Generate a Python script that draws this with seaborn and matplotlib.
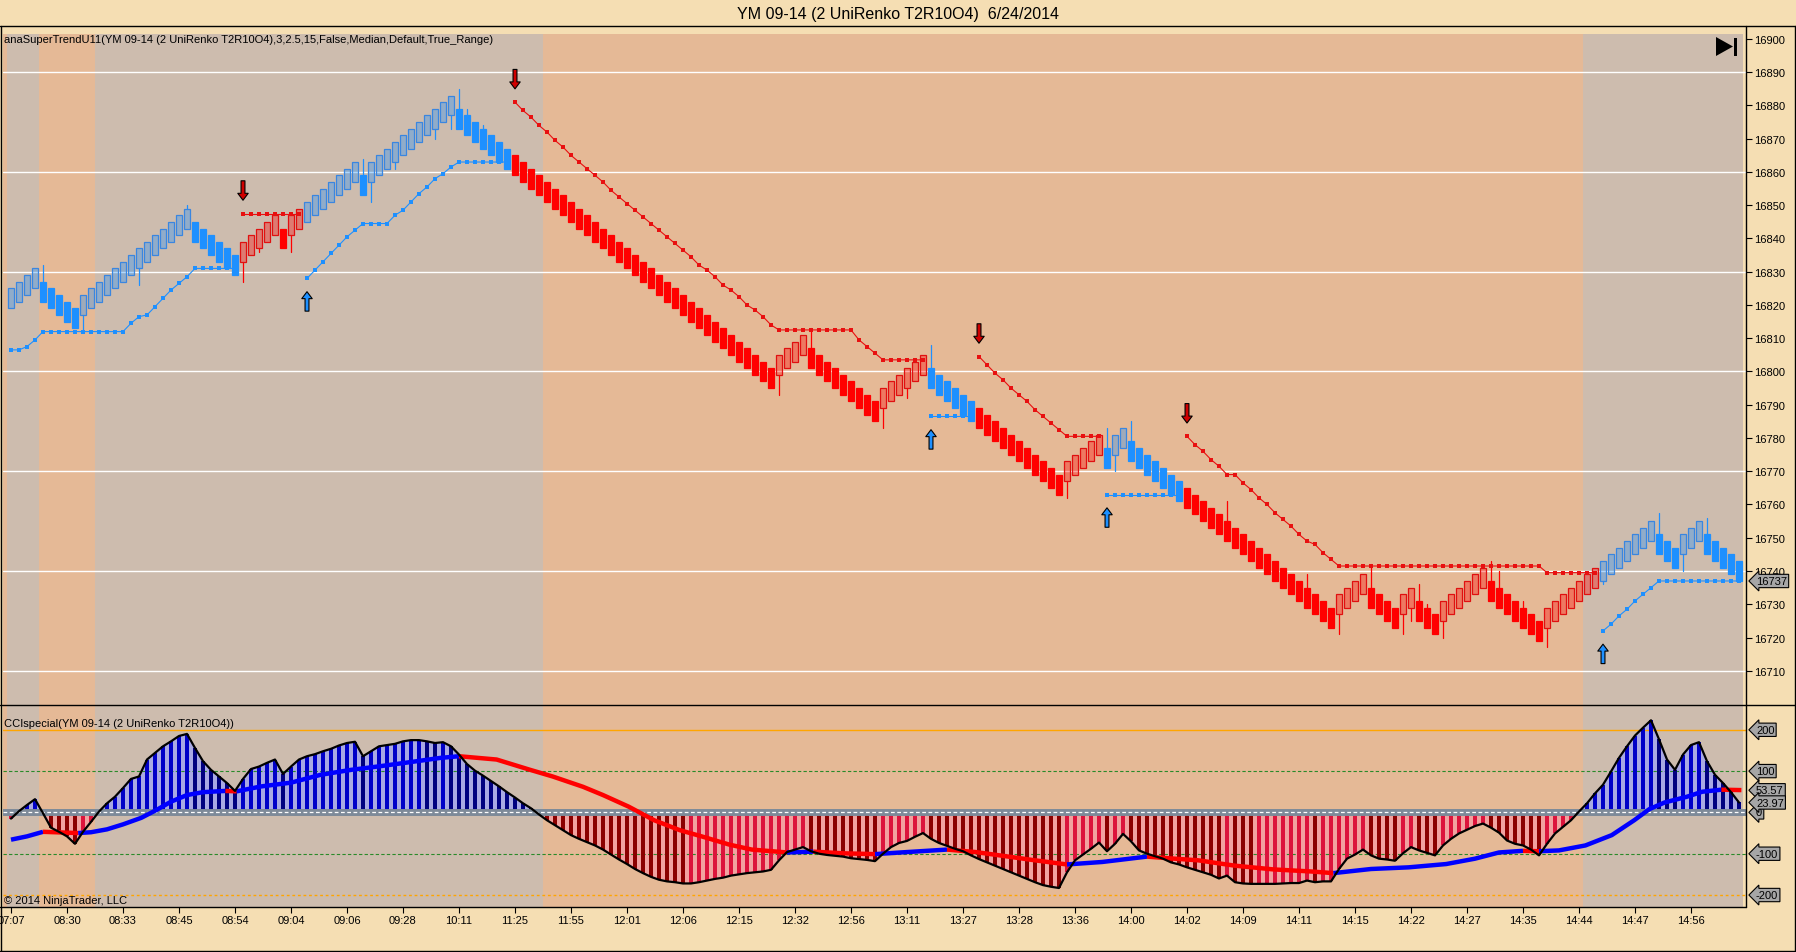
import numpy as np
import matplotlib
matplotlib.use("Agg")
import matplotlib.pyplot as plt
import matplotlib.transforms as mtransforms
from matplotlib.lines import Line2D
from matplotlib.patches import Polygon, Rectangle
import seaborn as sns

# ---------------- data ----------------
title = "YM 09-14 (2 UniRenko T2R10O4)  6/24/2014"
st_label = "anaSuperTrendU11(YM 09-14 (2 UniRenko T2R10O4),3,2.5,15,False,Median,Default,True_Range)"
cci_label = "CCIspecial(YM 09-14 (2 UniRenko T2R10O4))"
copyright_label = "\u00a9 2014 NinjaTrader, LLC"

# UniRenko bar closes, one per bar
closes = [
    16825, 16827, 16829, 16831, 16821, 16819, 16817, 16815, 16813, 16823,
    16825, 16827, 16829, 16831, 16833, 16835, 16837, 16839, 16841, 16843,
    16845, 16847, 16849, 16839, 16837, 16835, 16833, 16831, 16829, 16839,
    16841, 16843, 16845, 16847, 16837, 16847, 16849, 16851, 16853, 16855,
    16857, 16859, 16861, 16863, 16853, 16863, 16865, 16867, 16869, 16871,
    16873, 16875, 16877, 16879, 16881, 16883, 16873, 16871, 16869, 16867,
    16865, 16863, 16861, 16859, 16857, 16855, 16853, 16851, 16849, 16847,
    16845, 16843, 16841, 16839, 16837, 16835, 16833, 16831, 16829, 16827,
    16825, 16823, 16821, 16819, 16817, 16815, 16813, 16811, 16809, 16807,
    16805, 16803, 16801, 16799, 16797, 16795, 16805, 16807, 16809, 16811,
    16801, 16799, 16797, 16795, 16793, 16791, 16789, 16787, 16785, 16795,
    16797, 16799, 16801, 16803, 16805, 16795, 16793, 16791, 16789, 16787,
    16785, 16783, 16781, 16779, 16777, 16775, 16773, 16771, 16769, 16767,
    16765, 16763, 16773, 16775, 16777, 16779, 16781, 16771, 16781, 16783,
    16773, 16771, 16769, 16767, 16765, 16763, 16761, 16759, 16757, 16755,
    16753, 16751, 16749, 16747, 16745, 16743, 16741, 16739, 16737, 16735,
    16733, 16731, 16729, 16727, 16725, 16723, 16733, 16735, 16737, 16739,
    16729, 16727, 16725, 16723, 16733, 16735, 16725, 16723, 16721, 16731,
    16733, 16735, 16737, 16739, 16741, 16731, 16729, 16727, 16725, 16723,
    16721, 16719, 16729, 16731, 16733, 16735, 16737, 16739, 16741, 16743,
    16745, 16747, 16749, 16751, 16753, 16755, 16745, 16743, 16741, 16751,
    16753, 16755, 16745, 16743, 16741, 16739, 16737,
]
first_open = 16819
brick_body = 6  # body height of a UniRenko T2R10O4 bar, in points

# bars that show a wick, and where the wick ends
wick_bars = [4, 9, 16, 22, 29, 31, 35, 44, 45, 48, 53, 55, 56, 57, 59,
             96, 100, 109, 112, 115, 132, 137, 138, 140, 152, 162, 166,
             170, 174, 175, 176, 177, 179, 185, 186, 189, 192, 199, 206,
             209, 212]
wick_ends = [16832, 16812, 16826, 16850, 16827, 16836, 16836, 16864, 16851,
             16861, 16870, 16873, 16885, 16879, 16874,
             16793, 16813, 16783, 16792, 16808, 16762, 16783, 16770, 16785,
             16761, 16739, 16721, 16742, 16721, 16725, 16736, 16730, 16720,
             16743, 16740, 16731, 16717, 16736, 16757.5, 16740, 16756]

# SuperTrend direction: (direction, number of bars)
trend_runs = [(1, 29), (-1, 8), (1, 26), (-1, 52), (1, 6), (-1, 16),
              (1, 10), (-1, 52), (1, 18)]

supertrend = [
    16806.5, 16806.5, 16807.5, 16809.5, 16812, 16812, 16812, 16812, 16812, 16812,
    16812, 16812, 16812, 16812, 16812, 16814.5, 16816.5, 16817, 16819.5, 16822,
    16824.5, 16826.5, 16828.5, 16831, 16831, 16831, 16831, 16831, 16831, 16847.5,
    16847.5, 16847.5, 16847.5, 16847.5, 16847.5, 16847.5, 16847.5, 16828, 16830.5, 16833,
    16835.5, 16838, 16840.5, 16842.5, 16844.5, 16844.5, 16844.5, 16844.5, 16847, 16848.5,
    16851, 16853.5, 16855.5, 16858, 16859.5, 16861.5, 16863, 16863, 16863, 16863,
    16863, 16863, 16863, 16881, 16878.5, 16876.5, 16874, 16872, 16869.5, 16867.5,
    16865, 16863, 16861, 16859, 16857, 16854.5, 16852.5, 16850.5, 16848.5, 16846.5,
    16844.5, 16842.5, 16840.5, 16838.5, 16836.5, 16834.5, 16832, 16830.5, 16828.5, 16826,
    16824.5, 16822.5, 16820, 16818.5, 16816.5, 16814, 16812.5, 16812.5, 16812.5, 16812.5,
    16812.5, 16812.5, 16812.5, 16812.5, 16812.5, 16812.5, 16809.5, 16807.5, 16805.5, 16803.5,
    16803.5, 16803.5, 16803.5, 16803.5, 16803.5, 16786.5, 16786.5, 16786.5, 16786.5, 16786.5,
    16786.5, 16804.5, 16802, 16799.5, 16797.5, 16795, 16793, 16791, 16788.5, 16786.5,
    16784.5, 16782.5, 16780.5, 16780.5, 16780.5, 16780.5, 16780.5, 16763, 16763, 16763,
    16763, 16763, 16763, 16763, 16763, 16763, 16763, 16780.5, 16778, 16776,
    16773.5, 16771.5, 16769, 16769, 16766.5, 16764.5, 16762, 16760, 16757.5, 16755.5,
    16753.5, 16751, 16749, 16748, 16745.5, 16743.5, 16741.5, 16741.5, 16741.5, 16741.5,
    16741.5, 16741.5, 16741.5, 16741.5, 16741.5, 16741.5, 16741.5, 16741.5, 16741.5, 16741.5,
    16741.5, 16741.5, 16741.5, 16741.5, 16741.5, 16741.5, 16741.5, 16741.5, 16741.5, 16741.5,
    16741.5, 16741.5, 16739.5, 16739.5, 16739.5, 16739.5, 16739.5, 16739.5, 16739.5, 16722,
    16724, 16726.5, 16728.5, 16731, 16733, 16735, 16737, 16737, 16737, 16737,
    16737, 16737, 16737, 16737, 16737, 16737, 16737,
]

cci = [
    -15, 3, 18, 32, -2, -37, -47, -58, -76, -47,
    -23, 2, 22, 38, 59, 81, 87, 128, 144, 160,
    172, 185, 190, 156, 124, 103, 87, 71, 52, 81,
    105, 111, 120, 128, 93, 111, 128, 136, 141, 148,
    154, 162, 168, 171, 136, 148, 160, 163, 166, 172,
    175, 175, 172, 168, 170, 160, 140, 117, 101, 89,
    76, 63, 49, 36, 22, 10, -5, -19, -31, -43,
    -55, -64, -72, -80, -90, -102, -114, -125, -137, -147,
    -156, -163, -167, -169, -172, -172, -169, -165, -161, -158,
    -153, -150, -147, -145, -143, -139, -116, -96, -90, -84,
    -94, -100, -103, -105, -107, -111, -113, -115, -118, -100,
    -84, -74, -69, -59, -50, -64, -74, -81, -88, -94,
    -104, -113, -121, -129, -137, -145, -153, -161, -169, -176,
    -180, -183, -145, -116, -102, -88, -73, -94, -76, -52,
    -70, -92, -100, -106, -112, -121, -126, -133, -139, -145,
    -151, -160, -153, -169, -172, -173, -173, -173, -173, -172,
    -171, -171, -165, -169, -167, -167, -137, -112, -102, -90,
    -104, -112, -114, -117, -99, -84, -92, -98, -104, -80,
    -64, -51, -42, -33, -27, -37, -49, -68, -76, -80,
    -90, -104, -76, -51, -35, -19, 2, 22, 46, 67,
    99, 132, 160, 186, 205, 223, 177, 128, 103, 140,
    163, 170, 124, 91, 71, 49, 24,
]

# smoothed CCI line, read at these bar positions
ma_x = [0, 2, 4, 8.4, 10, 12, 14, 16.3, 18.2, 20, 22, 24, 26.8, 28.2, 31.3,
        35, 38.7, 42.5, 46.2, 50, 53.7, 56, 60.7, 64.9, 67.7, 71.5, 74,
        77.2, 80.4, 83.6, 86.5, 89.8, 92.6, 97, 100.3, 104, 108, 112, 117,
        120.6, 124.3, 128, 132, 136.4, 142, 144, 148.4, 153, 157.8, 162.5,
        165.3, 170, 174.7, 179.4, 183, 186, 189, 191, 193.5, 196.8, 200.1,
        202.9, 204.8, 206.7, 209.5, 211.4, 213.8, 216.3]
ma_y = [-66, -58, -47, -50, -48, -41, -29, -13, 6, 26, 42, 49, 52, 51, 63,
        72, 91, 103, 112, 122, 132, 136, 128, 103, 87, 62, 42,
        14, -19, -43, -59, -78, -90, -97, -95, -99, -101, -96, -90,
        -96, -106, -116, -126, -120, -107, -110, -116, -129, -138, -143,
        -147, -137, -133, -125, -112, -97, -93, -94, -92, -80, -55,
        -19, 8, 24, 38, 50, 55, 54]

time_labels = ["07:07", "08:30", "08:33", "08:45", "08:54", "09:04", "09:06",
               "09:28", "10:11", "11:25", "11:55", "12:01", "12:06", "12:15",
               "12:32", "12:56", "13:11", "13:27", "13:28", "13:36", "14:00",
               "14:02", "14:09", "14:11", "14:15", "14:22", "14:27", "14:35",
               "14:44", "14:47", "14:56"]
label_every = 7

# session shading, edges in bar units
band_edges = [-1.0, -0.5, 3.5, 10.5, 66.5, 196.5, 216.5]
band_kinds = ["o", "g", "o", "g", "o", "g"]

price_ticks = [16710, 16720, 16730, 16740, 16750, 16760, 16770, 16780, 16790,
               16800, 16810, 16820, 16830, 16840, 16850, 16860, 16870, 16880,
               16890, 16900]
grid_levels = [16710, 16740, 16770, 16800, 16830, 16860, 16890]
last_price = 16737
cci_tags = [("200", 200), ("100", 100), ("0", 0), ("-100", -100),
            ("-200", -200), ("53.57", 53.57), ("23.97", 23.97)]

# ---------------- style ----------------
WHEAT = "#f5deb3"
BAND = {"g": "#cdbcae", "o": "#e5b996"}
BLUE = "#1e90ff"
RED = "#ff0000"

sns.set_theme(style="white", rc={"figure.facecolor": WHEAT, "axes.facecolor": WHEAT})
plt.rcParams["font.family"] = ["Liberation Sans", "DejaVu Sans"]

W, H = 1796, 953
fig = plt.figure(figsize=(W / 100, H / 100), dpi=100)


def box(x0, y0, x1, y1):
    return [x0 / W, 1 - y1 / H, (x1 - x0) / W, (y1 - y0) / H]


def figline(x0, y0, x1, y1, lw=1.0):
    fig.add_artist(Line2D([x0 / W, x1 / W], [1 - y0 / H, 1 - y1 / H],
                          transform=fig.transFigure, color="black", lw=lw))


ax = fig.add_axes(box(3, 35, 1746, 706))
ax2 = fig.add_axes(box(3, 706, 1746, 908))

x = np.arange(len(closes))
for a in (ax, ax2):
    a.set_xlim(-1.0, 216.875)
    for s in a.spines.values():
        s.set_visible(False)
    for k, kind in enumerate(band_kinds):
        a.axvspan(band_edges[k], band_edges[k + 1], color=BAND[kind], lw=0, zorder=0)

# ---------------- price panel ----------------
ax.set_ylim(16699.7, 16901.5)
for lev in grid_levels:
    ax.axhline(lev, color="white", lw=1.0, zorder=1)

closes_a = np.array(closes, dtype=float)
step = np.sign(np.diff(closes_a, prepend=first_open))
opens = closes_a - brick_body * step
trend = np.concatenate([[d] * n for d, n in trend_runs])
body_lo = np.minimum(opens, closes_a)

faces, edges = [], []
for t, s in zip(trend, step):
    base = BLUE if t > 0 else RED
    rgb = matplotlib.colors.to_rgb(base)
    if s > 0:
        faces.append((*rgb, 0.35))
        edges.append("#3a86e0" if t > 0 else "#e01010")
    else:
        faces.append(base)
        edges.append(base)

for b, end in zip(wick_bars, wick_ends):
    lo, hi = body_lo[b], body_lo[b] + brick_body
    y0 = hi if end > hi else lo
    ax.plot([b, b], [y0, end], color=BLUE if trend[b] > 0 else RED, lw=0.9, zorder=3)

ax.bar(x, brick_body, bottom=body_lo, width=0.8, color=faces, edgecolor=edges,
       linewidth=0.9, zorder=4)

st = np.array(supertrend, dtype=float)
start = 0
for d, n in trend_runs:
    seg = slice(start, start + n)
    c = BLUE if d > 0 else "#e81010"
    ax.plot(x[seg], st[seg], color=c, lw=0.8, marker="s", ms=2.4, mfc=c, mec=c,
            mew=0, zorder=5)
    if start > 0:
        if d < 0:
            tip, off, fc = st[start] + 4, 14, "#d00000"
        else:
            tip, off, fc = st[start] - 4, -14, BLUE
        ax.annotate("", xy=(start, tip), xytext=(0, off), textcoords="offset points",
                    arrowprops=dict(width=2.8, headwidth=7.5, headlength=5,
                                    facecolor=fc, edgecolor="black", linewidth=0.8,
                                    shrink=0), zorder=6)
    start += n

ax.set_xticks([])
ax.yaxis.tick_right()
ax.set_yticks(price_ticks)
ax.set_yticklabels([str(v) for v in price_ticks])
ax.tick_params(axis="y", right=True, left=False, length=4.3, width=0.8,
               color="black", labelcolor="black", labelsize=8, pad=1.5)

TAG = "#a6a6a6"


def tag(axis, value, text):
    tr = mtransforms.blended_transform_factory(axis.transAxes, axis.transData)
    axis.text(1 + 10 / 1743, value, text, transform=tr, ha="left", va="center",
              fontsize=8, color="black", clip_on=False, zorder=20,
              bbox=dict(boxstyle="larrow,pad=0.15", fc=TAG, ec="black", lw=0.8))


tag(ax, last_price, str(last_price))

# ---------------- CCI panel ----------------
ax2.set_ylim(-229, 260)
cci_a = np.array(cci, dtype=float)
ax2.fill_between(x, 0, cci_a, where=cci_a >= 0, interpolate=True, color="#a9a9e4", lw=0, zorder=1)
ax2.fill_between(x, 0, cci_a, where=cci_a <= 0, interpolate=True, color="#f2a2a0", lw=0, zorder=1)
slope = np.diff(cci_a, prepend=cci_a[0])
bar_cols = []
for v, s in zip(cci_a, slope):
    if v >= 0:
        bar_cols.append("#0000c8" if s >= 0 else "#000080")
    else:
        bar_cols.append("#dc143c" if s >= 0 else "#8b0000")
ax2.bar(x, cci_a, width=0.5, color=bar_cols, lw=0, zorder=2)

ax2.axhline(200, color="#ffa500", lw=1.0, zorder=1.5)
ax2.axhline(-200, color="#ffa500", lw=1.0, ls=(0, (2, 2)), zorder=1.5)
for lev in (100, -100):
    ax2.axhline(lev, color="#2a8a2a", lw=0.8, ls=(0, (3, 2)), zorder=1.5)
ax2.axhline(0, color="#7d8a99", lw=5, zorder=3)
ax2.axhline(0, color="white", lw=0.9, ls=(0, (3, 2)), zorder=3.1)

sns.lineplot(x=x, y=cci_a, color="black", lw=1.6, ax=ax2, zorder=6)

seg_cols = ["#0000ff" if ma_y[k + 1] >= ma_y[k] else "#ff0000" for k in range(len(ma_x) - 1)]
s0 = 0
for k in range(1, len(seg_cols) + 1):
    if k == len(seg_cols) or seg_cols[k] != seg_cols[s0]:
        ax2.plot(ma_x[s0:k + 1], ma_y[s0:k + 1], color=seg_cols[s0], lw=3.2,
                 solid_capstyle="butt", solid_joinstyle="round", zorder=5)
        s0 = k

ax2.set_yticks([])
ax2.set_xticks([i * label_every for i in range(len(time_labels))])
ax2.set_xticklabels(time_labels)
ax2.set_xlabel("")
ax2.set_ylabel("")
ax2.tick_params(axis="x", bottom=True, length=4.3, width=0.8, color="black",
                labelcolor="black", labelsize=8, pad=1.5, direction="out")

for text, v in cci_tags:
    tag(ax2, v, text)

# ---------------- texts and frame ----------------
fig.text(898 / W, 1 - 14 / H, title, ha="center", va="center", fontsize=11.5, color="black")
fig.text(4 / W, 1 - 40 / H, st_label, ha="left", va="center", fontsize=8, color="black")
fig.text(4 / W, 1 - 724 / H, cci_label, ha="left", va="center", fontsize=8, color="black")
fig.text(4 / W, 1 - 901 / H, copyright_label, ha="left", va="center", fontsize=8, color="black")

figline(0, 27, W, 27)
figline(0, 706, W, 706)
figline(1746, 27, 1746, 908)
figline(0, 908, 1746, 908)
figline(0.5, 27, 0.5, H)
figline(W - 1, 27, W - 1, H)
figline(0, H - 1, W, H - 1)

# "jump to end" icon in the corner of the price panel
tri = [(1716, 38), (1716, 57), (1733, 47.5)]
fig.add_artist(Polygon([(px / W, 1 - py / H) for px, py in tri], closed=True,
                       transform=fig.transFigure, fc="black", ec="none"))
fig.add_artist(Rectangle((1733.5 / W, 1 - 57 / H), 3.5 / W, 18 / H,
                         transform=fig.transFigure, fc="black", ec="none"))

fig.savefig("out.png", dpi=100, facecolor=WHEAT)
